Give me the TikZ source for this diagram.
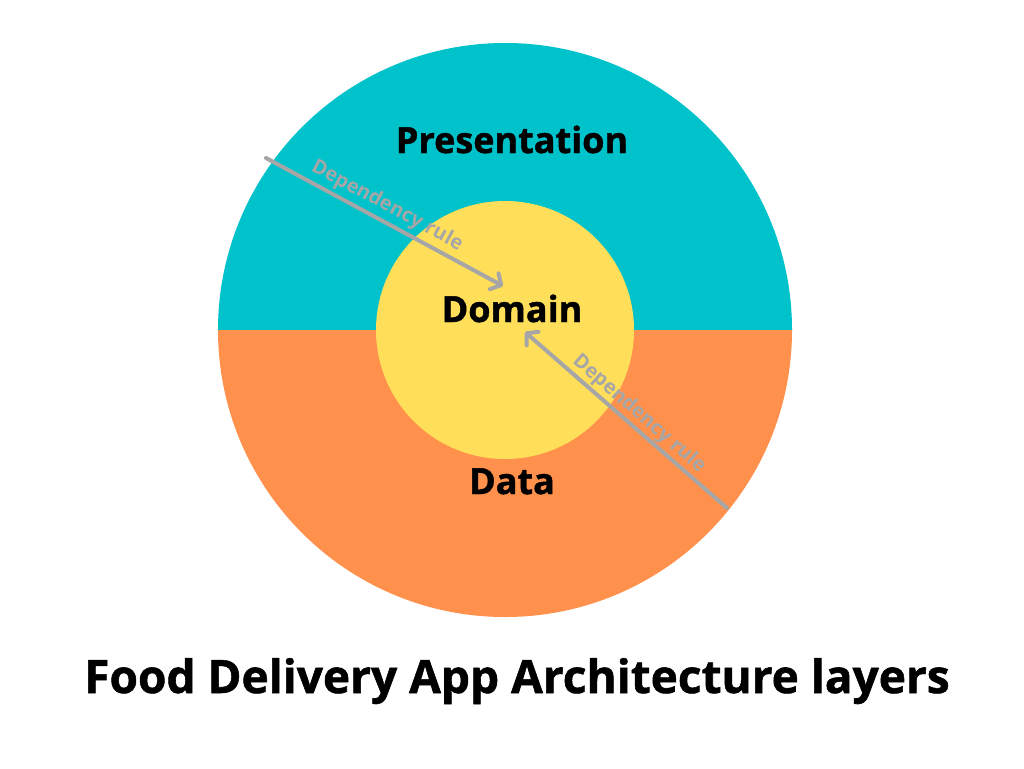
\documentclass[tikz,border=0pt]{standalone}
\usepackage{fontspec}
\setmainfont{Open Sans}
\newfontfamily\heavyfont[FakeBold=1.2]{Open Sans Bold}
\usetikzlibrary{arrows.meta}
\definecolor{presteal}{HTML}{00C2CB}
\definecolor{dataorange}{HTML}{FF914D}
\definecolor{domyellow}{HTML}{FFDE59}
\definecolor{rulegray}{HTML}{A6A6A6}
\begin{document}
\begin{tikzpicture}[x=1pt,y=-1pt,
  layerlabel/.style={font=\fontsize{36}{42}\selectfont\heavyfont, text=black, inner sep=0pt, anchor=base},
  rulearrow/.style={draw=rulegray, line width=4pt, line cap=round},
  rulelabel/.style={font=\fontsize{20}{24}\selectfont\bfseries, text=rulegray, inner sep=0pt}]
\useasboundingbox (0,0) rectangle (1024,768);
\fill[white] (0,0) rectangle (1024,768);
% outer circle halves
\begin{scope}
  \clip (0,0) rectangle (1024,330);
  \fill[presteal] (505,330) circle[radius=287];
\end{scope}
\begin{scope}
  \clip (0,330) rectangle (1024,768);
  \fill[dataorange] (505,330) circle[radius=287];
\end{scope}
\node[circle, fill=domyellow, minimum size=258pt, inner sep=0pt] (domaincircle) at (505,330) {};
% labels
\node[layerlabel] (pres) at (512,153) {Presentation};
\node[layerlabel] (dom) at (512,322) {Domain};
\node[layerlabel] (data) at (512,494) {Data};
\node[font=\fontsize{46}{52}\selectfont\heavyfont, inner sep=0pt, anchor=base] (title) at (517,693) {Food Delivery App Architecture layers};
% arrows
\coordinate (r1s) at (266,158);
\coordinate (r1e) at (503,286);
\coordinate (r2s) at (727,508);
\coordinate (r2e) at (525,332);
\draw[rulearrow, -{Straight Barb[length=8pt,width=18pt,line width=4pt,round]}] (r1s) -- (r1e);
\draw[rulearrow, -{Straight Barb[length=8pt,width=18pt,line width=4pt,round]}] (r2s) -- (r2e);
\node[rulelabel, rotate=-28.4] (lab1) at (387,206) {Dependency rule};
\node[rulelabel, rotate=-41.1] (lab2) at (639,414) {Dependency rule};
\end{tikzpicture}
\end{document}
